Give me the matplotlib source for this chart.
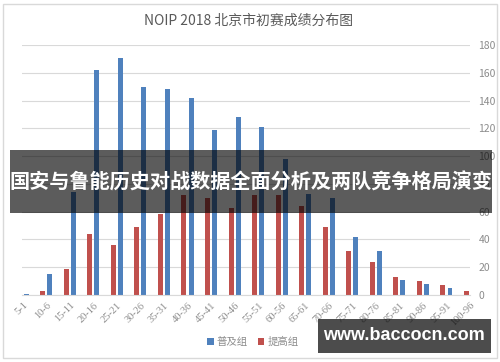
import matplotlib
matplotlib.use("Agg")
import matplotlib.pyplot as plt
from matplotlib.patches import Rectangle
import numpy as np

categories = ["5-1", "10-6", "15-11", "20-16", "25-21", "30-26", "35-31", "40-36",
              "45-41", "50-46", "55-51", "60-56", "65-61", "70-66", "75-71", "80-76",
              "85-81", "90-86", "95-91", "100-96"]
puji = [1, 15, 74, 162, 171, 150, 148, 142, 119, 128, 121, 98, 73, 70, 42, 32, 11, 8, 5, 0]
tigao = [0, 3, 19, 44, 36, 49, 58, 72, 70, 63, 72, 72, 64, 49, 32, 24, 13, 10, 7, 3]
yticks = [0, 20, 40, 60, 80, 100, 120, 140, 160, 180]

title = "NOIP 2018 北京市初赛成绩分布图"
banner = "国安与鲁能历史对战数据全面分析及两队竞争格局演变"
watermark = "www.baccocn.com"

plt.rcParams['font.family'] = ['Noto Sans CJK SC', 'DejaVu Sans']

W, H = 500, 362
fig = plt.figure(figsize=(W / 100, H / 100), dpi=100)

# chart-area border
fig.add_artist(Rectangle((3 / W, 4 / H), 494 / W, 354 / H, transform=fig.transFigure,
                         facecolor='white', edgecolor='#d9d9d9', lw=1, zorder=-1))

ax = fig.add_axes([22 / W, (H - 295) / H, 448 / W, 250 / H])
ax.set_facecolor('none')
x = np.arange(len(categories))
bw = 0.21
off = 0.15
ax.bar(x - off, tigao, width=bw, color='#C0504D', label='提高组', zorder=2)
ax.bar(x + off, puji, width=bw, color='#4F81BD', label='普及组', zorder=2)

ax.set_xlim(-0.03, 19.0)
ax.set_ylim(0, 180)
ax.set_yticks(yticks)
ax.yaxis.tick_right()
ax.tick_params(axis='y', length=0, pad=6, labelsize=7.5, labelcolor='#8c8c8c')
ax.grid(axis='y', color='#d9d9d9', lw=0.8, zorder=0)
for s in ['top', 'left', 'right']:
    ax.spines[s].set_visible(False)
ax.spines['bottom'].set_color('#d9d9d9')
ax.set_xticks(x)
ax.set_xticklabels(categories, rotation=45, ha='right', va='top', rotation_mode='anchor',
                   family=['Liberation Serif'], fontsize=7.5, color='#8c8c8c')
ax.tick_params(axis='x', length=0, pad=4)

fig.text(249 / W, 1 - 21 / H, title, ha='center', va='center', fontsize=10, color='#595959')

h, l = ax.get_legend_handles_labels()
leg = fig.legend([h[1], h[0]], [l[1], l[0]], loc='center', bbox_to_anchor=(253 / W, 1 - 342 / H),
                 ncol=2, frameon=False, fontsize=7.5, handlelength=0.6, handleheight=0.6,
                 handletextpad=0.3, columnspacing=1.0, labelcolor='#8c8c8c')

# overlay banner
fig.add_artist(Rectangle((10 / W, 1 - 213 / H), 482 / W, 63 / H, transform=fig.transFigure,
                         facecolor='black', alpha=0.64, edgecolor='none', zorder=5))
fig.text(251 / W, 1 - 182 / H, banner, ha='center', va='center', fontsize=14.5,
         fontweight='bold', color='white', zorder=6)

# watermark
fig.add_artist(Rectangle((318 / W, 1 - 353 / H), 173 / W, 34 / H, transform=fig.transFigure,
                         facecolor='black', alpha=0.7, edgecolor='none', zorder=5))
fig.text(404 / W, 1 - 336 / H, watermark, ha='center', va='center', fontsize=13,
         fontweight='bold', color='white', family=['Liberation Sans'], zorder=6)

fig.savefig('out.png', dpi=100)
